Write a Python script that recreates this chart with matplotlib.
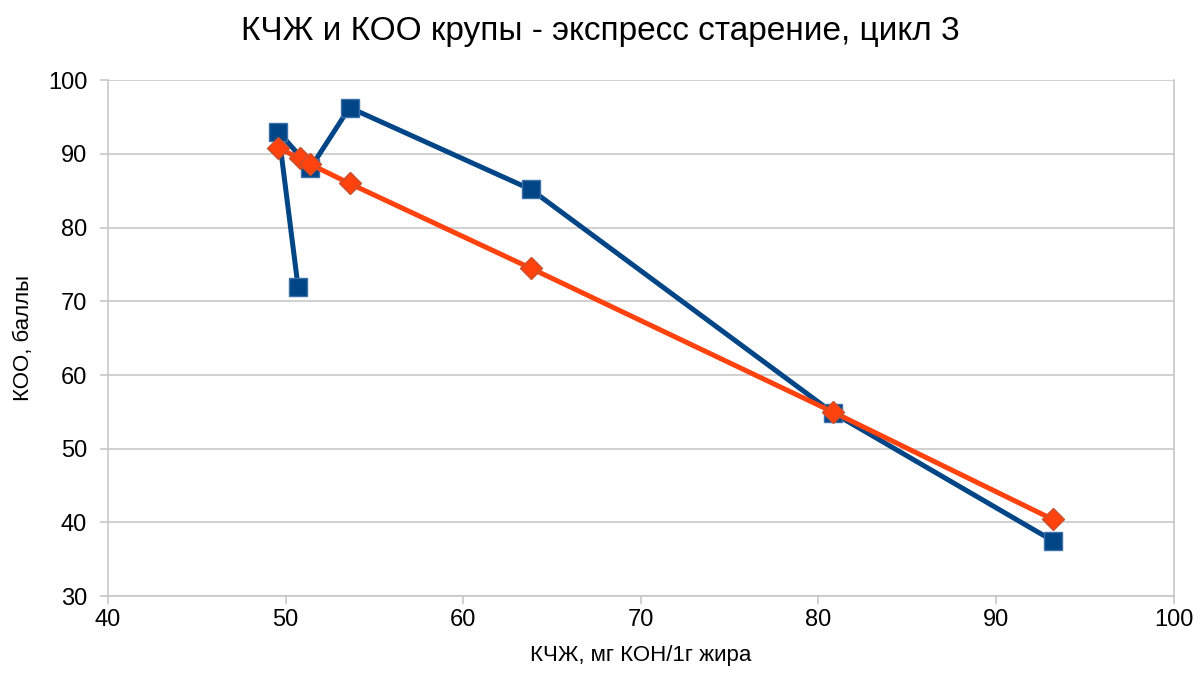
import matplotlib
matplotlib.use("Agg")
import matplotlib.pyplot as plt

# КЧЖ (x) и КОО (y) - измеренные значения
kchzh_meas = [50.7, 49.6, 51.4, 53.6, 63.8, 80.8, 93.2]
koo_meas = [72.0, 93.0, 88.1, 96.3, 85.2, 54.9, 37.5]

# расчётные значения
kchzh_calc = [49.6, 50.8, 51.4, 53.6, 63.8, 80.8, 93.2]
koo_calc = [90.8, 89.4, 88.6, 86.0, 74.5, 55.0, 40.4]

plt.rcParams['font.family'] = ['Liberation Sans', 'DejaVu Sans']

fig = plt.figure(figsize=(12, 6.75), dpi=100)
ax = fig.add_axes([0.09, 0.117, 0.888, 0.764])

ax.plot(kchzh_meas, koo_meas, color="#004586", linewidth=3.6,
        marker="s", markersize=13, markerfacecolor="#004586",
        markeredgecolor="#3d6fa8", markeredgewidth=1, zorder=3)
ax.plot(kchzh_calc, koo_calc, color="#ff420e", linewidth=3.6,
        marker="D", markersize=11.5, markerfacecolor="#ff420e",
        markeredgecolor="#c8502d", markeredgewidth=1, zorder=4)

ax.set_xlim(40, 100)
ax.set_ylim(30, 100)
ax.set_xticks(range(40, 101, 10))
ax.set_yticks(range(30, 101, 10))
ax.grid(axis="y", color="#c8c8c8", linewidth=1.2)
ax.set_axisbelow(True)
for side in ["left", "bottom", "right"]:
    ax.spines[side].set_color("#c8c8c8")
    ax.spines[side].set_linewidth(1.2)
ax.spines["top"].set_visible(False)
ax.tick_params(axis="both", colors="#c8c8c8", labelcolor="black",
               labelsize=17, length=6, width=1.2)
ax.tick_params(axis="y", pad=9)

# заголовок по центру всей картинки
fig.text(0.5, 0.953, "КЧЖ и КОО крупы - экспресс старение, цикл 3",
         fontsize=24, ha="center", va="center")
ax.set_xlabel("КЧЖ, мг КОН/1г жира", fontsize=16, labelpad=10)
ax.set_ylabel("КОО, баллы", fontsize=16, labelpad=10)

fig.savefig("out.png", dpi=100)
